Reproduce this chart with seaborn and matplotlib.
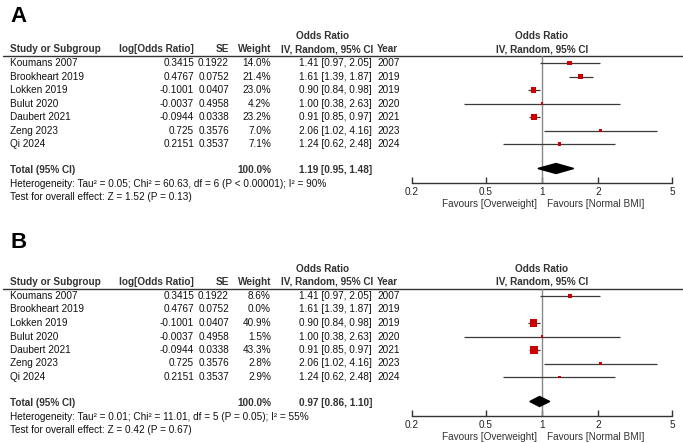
import numpy as np
import pandas as pd
import seaborn as sns
import matplotlib.pyplot as plt

# ---- data ----
studies = ["Koumans 2007", "Brookheart 2019", "Lokken 2019", "Bulut 2020",
           "Daubert 2021", "Zeng 2023", "Qi 2024"]
log_or = ["0.3415", "0.4767", "-0.1001", "-0.0037", "-0.0944", "0.725", "0.2151"]
se = ["0.1922", "0.0752", "0.0407", "0.4958", "0.0338", "0.3576", "0.3537"]
years = ["2007", "2019", "2019", "2020", "2021", "2023", "2024"]
odds = [1.41, 1.61, 0.90, 1.00, 0.91, 2.06, 1.24]
ci_low = [0.97, 1.39, 0.84, 0.38, 0.85, 1.02, 0.62]
ci_high = [2.05, 1.87, 0.98, 2.63, 0.97, 4.16, 2.48]

weights_a = [14.0, 21.4, 23.0, 4.2, 23.2, 7.0, 7.1]
weights_b = [8.6, 0.0, 40.9, 1.5, 43.3, 2.8, 2.9]

total_a = (1.19, 0.95, 1.48)
total_b = (0.97, 0.86, 1.10)

het_a = "Heterogeneity: Tau² = 0.05; Chi² = 60.63, df = 6 (P < 0.00001); I² = 90%"
het_b = "Heterogeneity: Tau² = 0.01; Chi² = 11.01, df = 5 (P = 0.05); I² = 55%"
test_a = "Test for overall effect: Z = 1.52 (P = 0.13)"
test_b = "Test for overall effect: Z = 0.42 (P = 0.67)"

xticks = [0.2, 0.5, 1, 2, 5]
xtick_labels = ["0.2", "0.5", "1", "2", "5"]

sns.set_theme(style="white")
plt.rcParams['font.family'] = ['Liberation Sans', 'DejaVu Sans']

W, H = 683, 443
fig = plt.figure(figsize=(W / 100, H / 100), dpi=100)
bg = fig.add_axes([0, 0, 1, 1])
bg.set_xlim(0, W)
bg.set_ylim(H, 0)
bg.axis('off')

FS = 7.2
TXT = '#111111'
HDR = '#333333'
ROW0, STEP = 63, 13.5


def panel(off, label, label_y, weights, total, het, test):
    bg.text(10, label_y, label, fontsize=16, fontweight='bold', va='center', color='black')
    # headers
    bg.text(323, 36 + off, "Odds Ratio", fontsize=FS, fontweight='bold', ha='center', va='center', color=HDR)
    bg.text(542, 36 + off, "Odds Ratio", fontsize=FS, fontweight='bold', ha='center', va='center', color=HDR)
    hy = 49 + off
    bg.text(10, hy, "Study or Subgroup", fontsize=FS, fontweight='bold', va='center', color=HDR)
    bg.text(194, hy, "log[Odds Ratio]", fontsize=FS, fontweight='bold', ha='right', va='center', color=HDR)
    bg.text(229, hy, "SE", fontsize=FS, fontweight='bold', ha='right', va='center', color=HDR)
    bg.text(271, hy, "Weight", fontsize=FS, fontweight='bold', ha='right', va='center', color=HDR)
    bg.text(373, hy, "IV, Random, 95% CI", fontsize=FS, fontweight='bold', ha='right', va='center', color=HDR)
    bg.text(377, hy, "Year", fontsize=FS, fontweight='bold', va='center', color=HDR)
    bg.text(542, hy, "IV, Random, 95% CI", fontsize=FS, fontweight='bold', ha='center', va='center', color=HDR)
    bg.plot([3, 683], [55.5 + off, 55.5 + off], color='#333333', lw=1)

    for i in range(len(studies)):
        y = ROW0 + i * STEP + off
        bg.text(10, y, studies[i], fontsize=FS, va='center', color=TXT)
        bg.text(194, y, log_or[i], fontsize=FS, ha='right', va='center', color=TXT)
        bg.text(229, y, se[i], fontsize=FS, ha='right', va='center', color=TXT)
        bg.text(271, y, f"{weights[i]:.1f}%", fontsize=FS, ha='right', va='center', color=TXT)
        bg.text(372, y, f"{odds[i]:.2f} [{ci_low[i]:.2f}, {ci_high[i]:.2f}]",
                fontsize=FS, ha='right', va='center', color=TXT)
        bg.text(377, y, years[i], fontsize=FS, va='center', color=TXT)

    ty = 170 + off
    bg.text(10, ty, "Total (95% CI)", fontsize=FS, fontweight='bold', va='center', color=HDR)
    bg.text(271, ty, "100.0%", fontsize=FS, fontweight='bold', ha='right', va='center', color=HDR)
    bg.text(372, ty, f"{total[0]:.2f} [{total[1]:.2f}, {total[2]:.2f}]", fontsize=FS,
            fontweight='bold', ha='right', va='center', color=HDR)
    bg.text(10, 184 + off, het, fontsize=FS, va='center', color=TXT)
    bg.text(10, 197 + off, test, fontsize=FS, va='center', color=TXT)
    bg.text(537, 204 + off, "Favours [Overweight]", fontsize=FS, ha='right', va='center', color='#333333')
    bg.text(547, 204 + off, "Favours [Normal BMI]", fontsize=FS, ha='left', va='center', color='#333333')

    # forest axes
    top_px, axis_px = 55.5 + off, 182.5 + off
    left_px, right_px = 412, 672
    ax = fig.add_axes([left_px / W, 1 - axis_px / H, (right_px - left_px) / W, (axis_px - top_px) / H])
    ax.set_facecolor('none')
    ax.set_xscale('log')
    ax.set_xlim(0.2, 5)
    ax.set_ylim((axis_px - off - ROW0) / STEP, (top_px - off - ROW0) / STEP)
    for s in ['top', 'left', 'right']:
        ax.spines[s].set_visible(False)
    ax.spines['bottom'].set_color('#333333')
    ax.spines['bottom'].set_linewidth(1)
    ax.set_xticks(xticks)
    ax.set_xticklabels(xtick_labels)
    ax.minorticks_off()
    ax.tick_params(axis='x', direction='in', length=4, width=1, color='#333333',
                   labelsize=FS, pad=3.5, labelcolor='#222222', bottom=True)
    ax.set_yticks([])
    ax.axvline(1, color='#888888', lw=1, zorder=1)

    df = pd.DataFrame({"row": np.arange(len(studies)), "odds": odds, "lo": ci_low,
                       "hi": ci_high, "w": weights})
    df = df[df["w"] > 0]
    ax.hlines(df["row"], df["lo"], df["hi"], color='#3a3a3a', lw=0.9, zorder=2)
    sns.scatterplot(data=df, x="odds", y="row", size="w", sizes=(1.5, 1.5 + 0.7 * 50),
                    size_norm=(0, 50), marker='s', color='#cc0000', edgecolor='none',
                    legend=False, ax=ax, zorder=3)
    ax.set_xlabel("")
    ax.set_ylabel("")

    tr = (168.5 - ROW0) / STEP
    h = 0.37
    ax.fill([total[1], total[0], total[2], total[0]], [tr, tr - h, tr, tr + h],
            color='black', zorder=4)


panel(0, "A", 16, weights_a, total_a, het_a, test_a)
panel(233, "B", 242, weights_b, total_b, het_b, test_b)

fig.savefig("out.png", dpi=100)
